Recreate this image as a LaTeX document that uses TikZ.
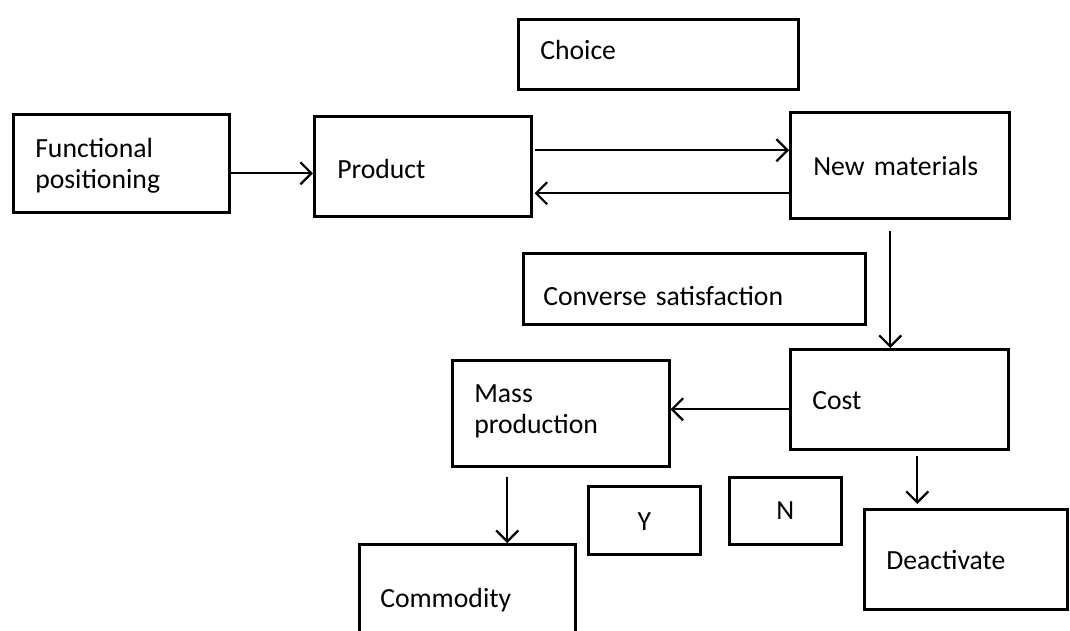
\documentclass[tikz,border=0pt]{standalone}
\usepackage{fontspec}
\setmainfont{Carlito}
\usetikzlibrary{arrows.meta}
\begin{document}
\begin{tikzpicture}[x=1pt,y=-1pt,
  box/.style={draw, line width=2.5pt, rectangle, anchor=north west, inner ysep=0pt,
    align=left, font=\fontsize{27.7}{31.5}\selectfont},
  cbox/.style={box, align=center, inner xsep=0pt},
  arr/.style={draw, line width=2.2pt, -{Straight Barb[length=11pt,width=22pt,line width=2.2pt]}}]
\useasboundingbox (0,0) rectangle (1070,630);
\clip (0,0) rectangle (1070,630);
\node[box, inner xsep=22pt, text width=172pt, text height=43pt, text depth=55pt] (fp) at (12,113) {Functional\\positioning};
\node[box, inner xsep=23pt, text width=171pt, text height=62pt, text depth=38pt] (prod) at (313,115) {Product};
\node[box, inner xsep=23pt, text width=173pt, text height=63pt, text depth=43pt] (nm) at (789,111) {New materials};
\node[box, inner xsep=22pt, text width=236pt, text height=40pt, text depth=30pt] (choice) at (517,18) {Choice};
\node[box, inner xsep=20pt, text width=302pt, text height=52pt, text depth=19pt] (conv) at (522,252) {Converse satisfaction};
\node[box, inner xsep=22pt, text width=174pt, text height=60pt, text depth=40pt] (cost) at (789,348) {Cost};
\node[box, inner xsep=22pt, text width=173pt, text height=42pt, text depth=64pt] (mass) at (451,359) {Mass\\production};
\node[box, inner xsep=21pt, text width=174pt, text height=63pt, text depth=47pt] (comm) at (358,543) {Commodity};
\node[box, inner xsep=22pt, text width=159pt, text height=60pt, text depth=40pt] (deact) at (863,508) {Deactivate};
\node[cbox, text width=112pt, text height=44pt, text depth=24pt] (y) at (587,485) {Y};
\node[cbox, text width=112pt, text height=42pt, text depth=25pt] (n) at (728,476) {N};
\draw[arr] ([yshift=-10pt]fp.east) -- ([yshift=-7pt]prod.west);
\draw[arr] ([xshift=2pt,yshift=16pt]prod.east) -- ([yshift=15pt]nm.west);
\draw[arr] ([yshift=-28pt]nm.west) -- ([xshift=2pt,yshift=-27pt]prod.east);
\draw[arr] ([xshift=-9.5pt,yshift=-11pt]nm.south) -- ([xshift=-9pt]cost.north);
\draw[arr] ([yshift=-10pt]cost.west) -- ([yshift=4pt]mass.east);
\draw[arr] ([xshift=-53.5pt,yshift=-9pt]mass.south) -- ([xshift=40pt]comm.north);
\draw[arr] ([xshift=18pt,yshift=-5pt]cost.south) -- ([xshift=-48.5pt,yshift=4pt]deact.north);
\end{tikzpicture}
\end{document}
